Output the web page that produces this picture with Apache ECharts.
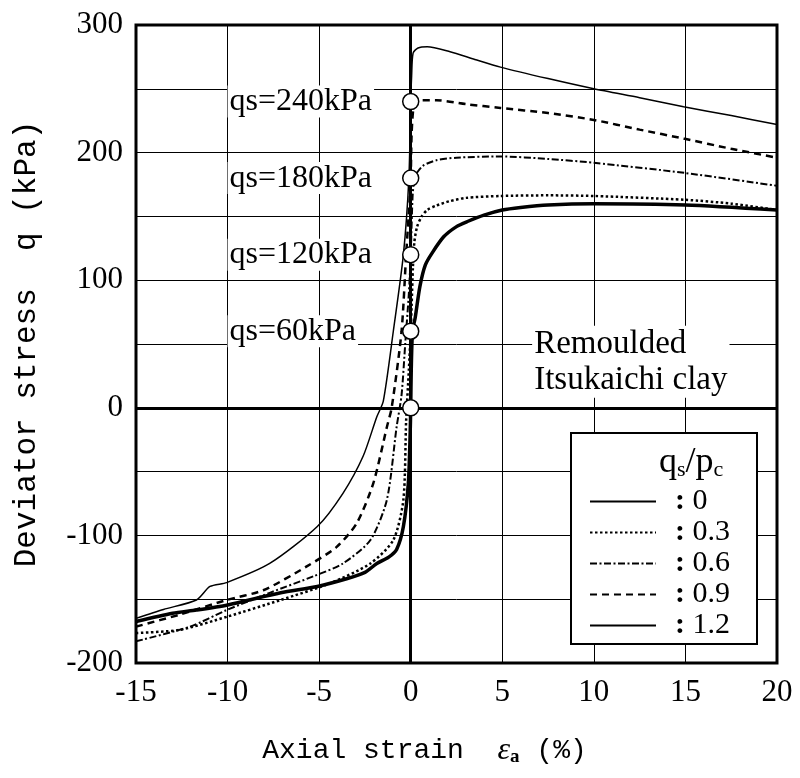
<!DOCTYPE html>
<html>
<head>
<meta charset="utf-8">
<script src="https://cdn.jsdelivr.net/npm/echarts@6/dist/echarts.min.js"></script>
<style>html,body{margin:0;padding:0;background:#fff}#c{width:800px;height:778px}</style>
</head>
<body>
<div id="c"></div>
<script>
// ---- data ----
const seriesNames = ['0', '0.3', '0.6', '0.9', '1.2'];
const qsValues = [0, 60, 120, 180, 240];
const qsLabels = ['qs=60kPa', 'qs=120kPa', 'qs=180kPa', 'qs=240kPa'];
const qsLabelValues = [60, 120, 180, 240];
const xTicks = [-15, -10, -5, 0, 5, 10, 15, 20];
const yTicks = [-200, -100, 0, 100, 200, 300];

const s00x = [-15, -13, -11.7, -10, -7.1, -5.1, -3.5, -2.5, -1.85, -1.2, -0.77, -0.4, -0.13, -0.03, 0, 0.03, 0.1, 0.25, 0.5, 0.8, 1.2, 1.8, 2.5, 3.1, 4, 5, 6, 7.5, 10, 15, 20];
const s00y = [-167.5, -161, -158.5, -154.5, -145, -140, -134, -129, -122, -117, -111, -93, -59, -20, 0, 30, 60, 71, 95, 112, 122, 134, 142, 146, 151, 155, 157, 159, 160, 159, 155];

const s03x = [-15, -12.6, -10, -7.1, -4.4, -2.2, -0.95, -0.4, -0.25, -0.1, 0, 0.05, 0.12, 0.2, 0.35, 0.6, 0.9, 1.4, 2.15, 3, 4.9, 7.5, 10, 15, 17.5, 20];
const s03y = [-176.5, -174, -163.6, -150.6, -137.5, -122, -103.6, -72, -10, 30, 60, 80, 110, 130, 142, 150, 155, 158.5, 162, 164.5, 166, 166.5, 166, 163, 160, 155];

const s06x = [-15, -12.05, -10.05, -7.7, -5.3, -3.7, -2.2, -1.3, -0.77, -0.5, -0.3, -0.1, 0, 0.1, 0.2, 0.33, 0.7, 1.4, 2.5, 4.9, 7.5, 10, 15, 20];
const s06y = [-183, -171.5, -158.5, -145, -132, -122, -103.6, -72, -15, 10, 50, 90, 120, 165, 180, 184, 190, 194, 196, 197, 195, 192, 184, 174];

const s09x = [-15, -12.6, -10.05, -8.05, -5.7, -4.04, -2.95, -2.04, -1.3, -1.04, -0.5, -0.25, -0.05, 0, 0.05, 0.15, 0.3, 0.5, 1.4, 3, 4.9, 7.5, 10, 12.5, 14.9, 17.5, 20];
const s09y = [-171.5, -162, -150.6, -143, -124.5, -109, -90.5, -59, -15, 0, 60, 120, 165, 180, 215, 235, 239, 241, 241, 238, 235, 231, 225.6, 218, 211, 203, 196];

const s12x = [-15, -13.5, -11.7, -10.96, -10.05, -7.7, -5.1, -3.7, -2.6, -1.85, -1.5, -0.95, -0.4, -0.1, 0, 0.05, 0.13, 0.4, 0.9, 2.15, 3.5, 4.9, 7.5, 10, 12.5, 14.9, 17.5, 20];
const s12y = [-165, -158, -150.6, -140, -137, -122, -93, -67, -38, -7, 5, 60, 120, 180, 240, 260, 278, 282, 283, 279, 273, 267, 258, 250, 243, 236, 229, 222];

const seriesX = [s00x, s03x, s06x, s09x, s12x];
const seriesY = [s00y, s03y, s06y, s09y, s12y];

// ---- styles ----
const styles = [
  {width: 3.5, type: 'solid'},
  {width: 2.5, type: [2.5, 2.5]},
  {width: 2, type: [7, 2.5, 2, 2.5]},
  {width: 2.5, type: [7, 5]},
  {width: 1.5, type: 'solid'}
];
const serif = '"Liberation Serif", "Times New Roman", serif';
const mono = '"Liberation Mono", "DejaVu Sans Mono", monospace';

const chart = echarts.init(document.getElementById('c'), null, {renderer: 'canvas'});

const lineSeries = seriesNames.map((n, i) => ({
  name: n,
  type: 'line',
  data: seriesX[i].map((x, k) => [x, seriesY[i][k]]),
  symbol: 'none',
  smooth: 0.25,
  lineStyle: {color: '#000', width: styles[i].width, type: styles[i].type},
  itemStyle: {color: '#000'},
  z: 3
}));

const option = {
  animation: false,
  backgroundColor: '#fff',
  grid: {left: 136, right: 23, top: 25, bottom: 115, containLabel: false, outerBoundsMode: 'none',
    show: true, borderColor: '#000', borderWidth: 3, backgroundColor: 'transparent'},
  xAxis: {
    type: 'value', min: xTicks[0], max: xTicks[xTicks.length - 1], interval: 5,
    axisLine: {show: false}, axisTick: {show: false},
    axisLabel: {color: '#000', fontFamily: serif, fontSize: 31, margin: 14},
    splitLine: {show: true, lineStyle: {color: '#000', width: 1}},
    name: 'Axial strain  {e|ε}{a|a} (%)', nameLocation: 'middle', nameGap: 72,
    nameTextStyle: {color: '#000', fontFamily: mono, fontSize: 28, padding: [0, 64, 0, 0],
      rich: {e: {fontFamily: serif, fontSize: 32, fontStyle: 'italic'}, a: {fontFamily: serif, fontSize: 19, fontWeight: 'bold', verticalAlign: 'bottom', padding: [12, 0, 0, 0]}}}
  },
  yAxis: {
    type: 'value', min: yTicks[0], max: yTicks[yTicks.length - 1], interval: 50,
    axisLine: {show: false}, axisTick: {show: false},
    axisLabel: {color: '#000', fontFamily: serif, fontSize: 31, margin: 13,
      formatter: v => (yTicks.indexOf(v) >= 0 ? String(v) : '')},
    splitLine: {show: true, lineStyle: {color: '#000', width: 1}},
    name: 'Deviator stress  q (kPa)', nameLocation: 'middle', nameGap: 94,
    nameTextStyle: {color: '#000', fontFamily: mono, fontSize: 31}
  },
  legend: {
    data: seriesNames, orient: 'vertical', left: 584, top: 481, itemWidth: 66, itemHeight: 4, itemGap: 0,
    itemStyle: {opacity: 0},
    formatter: n => '{c|:} ' + n,
    textStyle: {color: '#000', fontFamily: serif, fontSize: 30, lineHeight: 31, padding: [0, 0, 0, 14],
      rich: {c: {fontFamily: serif, fontSize: 30, lineHeight: 31, fontWeight: 'bold'}}},
    z: 20
  },
  graphic: [
    {type: 'rect', left: 570, top: 432, shape: {width: 186, height: 211}, style: {fill: '#fff', stroke: '#000', lineWidth: 2}, z: 15},
    {type: 'text', left: 659, top: 445, z: 21, style: {
      text: 'q{s|s}/p{s|c}', fill: '#000', font: '36px ' + serif,
      rich: {s: {fontSize: 22, fontFamily: serif, padding: [15, 0, 0, 0]}}}}
  ],
  series: [
    ...lineSeries,
    {
      type: 'line', data: [], symbol: 'none', silent: true,
      markLine: {silent: true, symbol: 'none', label: {show: false},
        lineStyle: {color: '#000', width: 3, type: 'solid'},
        data: [{xAxis: 0}, {yAxis: 0}]},
      z: 2
    },
    {
      type: 'scatter', data: qsValues.map(v => [0, v]), symbol: 'circle', symbolSize: 16,
      itemStyle: {color: '#fff', borderColor: '#000', borderWidth: 1.5, opacity: 1}, z: 10
    },
    {
      type: 'scatter', data: qsLabelValues.map(v => [-10, v]), symbolSize: 0,
      itemStyle: {opacity: 1},
      label: {show: true, position: 'right', distance: 0, formatter: p => qsLabels[p.dataIndex],
        color: '#000', fontFamily: serif, fontSize: 32, backgroundColor: '#fff', padding: [0, 2, 0, 2]},
      z: 8
    },
    {
      type: 'scatter', data: [[6.63, 36]], symbolSize: 0,
      itemStyle: {opacity: 1},
      label: {show: true, position: 'right', distance: 0, formatter: 'Remoulded\nItsukaichi clay',
        color: '#000', fontFamily: serif, fontSize: 33, lineHeight: 36, backgroundColor: '#fff', padding: [0, 2, 0, 2]},
      z: 8
    }
  ]
};
chart.setOption(option);
</script>
</body>
</html>
